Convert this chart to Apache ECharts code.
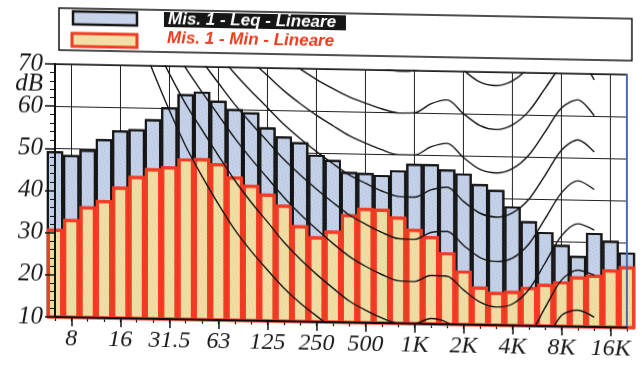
<!DOCTYPE html>
<html><head><meta charset="utf-8">
<script src="https://cdn.jsdelivr.net/npm/echarts@6/dist/echarts.min.js"></script>
<style>
html,body{margin:0;padding:0;background:#fff;overflow:hidden}
#c{width:642px;height:365px;transform:skewY(1.06deg);transform-origin:55px 0}
</style></head><body><div id="c"></div>
<script>
// 1/3-octave bands (6.3 Hz .. 20 kHz)
const categories = ['6.3','8','10','12.5','16','20','25','31.5','40','50','63','80','100','125','160','200','250','315','400','500','630','800','1K','1.25K','1.6K','2K','2.5K','3.15K','4K','5K','6.3K','8K','10K','12.5K','16K','20K'];
const tickLabels = ['8','16','31.5','63','125','250','500','1K','2K','4K','8K','16K'];
const yTicks = [10,20,30,40,50,60,70];

const leqValues = [49.3,48.5,49.8,52.4,54.5,54.9,57.3,60.2,63.4,64.1,62.0,60.1,59.4,55.9,53.8,52.5,49.6,48.5,45.7,45.5,45.1,46.3,47.9,47.9,46.7,45.8,43.4,42.1,38.2,34.8,32.3,29.3,26.8,32.3,30.5,27.8];
const minValues = [30.9,33.3,36.4,37.9,41.2,43.8,45.7,46.2,48.2,48.3,47.2,44.1,42.2,40.2,37.6,32.8,30.3,31.7,35.7,37.2,37.1,35.3,32.5,30.8,27.1,22.8,19.1,17.9,18.2,19.2,20.0,20.7,21.9,22.4,23.7,24.5];

// equal-loudness contours, values from 20 Hz to 12.5 kHz
const contourFirstBand = '20';
const phon0  = [78.5,68.7,59.5,51.1,44.0,37.5,31.5,26.5,22.1,17.9,14.4,11.4,8.6,6.2,4.4,3.0,2.2,2.4,3.5,1.7,-1.3,-4.2,-6.0,-5.4,-1.5,6.0,12.6,13.9,12.3];
const phon10 = [83.8,75.8,68.2,61.1,55.0,49.0,43.2,38.1,33.5,28.8,24.8,21.3,18.1,15.1,13.0,11.2,10.0,10.0,11.3,10.4,7.3,4.5,3.0,3.8,7.5,14.4,21.0,23.4,22.3];
const phon20 = [89.6,82.7,76.0,69.6,64.0,58.6,53.2,48.4,43.9,39.4,35.5,32.0,28.7,25.7,23.4,21.5,20.1,20.0,21.5,21.4,18.2,15.4,14.3,15.1,18.6,25.0,31.5,34.4,33.0];
const phon30 = [null,null,82.4,76.5,71.3,66.2,61.2,56.8,52.6,48.4,44.8,41.5,38.4,35.5,33.4,31.5,30.1,30.0,31.7,32.0,28.8,26.0,25.1,26.0,29.4,35.5,41.7,44.6,42.6];
const phon40 = [99.9,93.9,88.2,82.6,77.8,73.1,68.5,64.4,60.6,56.7,53.4,50.4,47.6,45.0,43.1,41.3,40.1,40.0,41.8,42.5,39.2,36.5,35.6,36.7,40.0,45.8,51.8,54.3,51.5];
const phon50 = [null,null,null,null,null,null,75.4,71.6,68.2,64.7,61.7,59.0,56.6,54.3,52.6,51.1,50.0,50.0,52.0,52.9,49.6,46.9,46.1,47.2,50.5,56.1,61.8,63.8,60.1];
const phon60 = [null,null,null,null,null,null,null,null,75.6,72.5,69.9,67.5,65.4,63.5,62.1,60.8,59.9,60.0,62.2,63.2,60.0,57.3,56.4,57.6,60.9,66.4,71.7,73.2,68.6];
const phon70 = [null,null,null,null,null,null,null,null,null,null,null,null,null,null,71.5,70.5,69.8,70.0,72.3,73.5,70.3,67.6,66.8,68.0,71.3,76.6,null,null,null];
const contours = [phon0,phon10,phon20,phon30,phon40,phon50,phon60,phon70];

const startIdx = categories.indexOf(contourFirstBand);
function fullRow(row){
  const out = categories.map(()=>null);
  row.forEach((v,i)=>{ out[startIdx+i] = v; });
  return out;
}
const isOctave = (i, v) => tickLabels.indexOf(categories[i]) !== -1;

const labelFont = {fontFamily:'Liberation Serif', fontStyle:'italic', color:'#1a1a1a'};

const chart = echarts.init(document.getElementById('c'), null, {renderer:'canvas'});
const series = [
  {type:'bar', name:'Mis. 1 - Leq - Lineare', data:leqValues, barWidth:'100%', barGap:'-100%', clip:true, z:2,
   itemStyle:{color:'#c6d3ea', borderColor:'#151515', borderWidth:2,
     decal:{symbol:'circle', symbolSize:0.7, color:'rgba(70,90,135,0.28)', dashArrayX:[[2,2],[0,2,2,0]], dashArrayY:[2,1], rotation:0.4}}},
  {type:'bar', name:'Mis. 1 - Min - Lineare', data:minValues, barWidth:'100%', barGap:'-100%', clip:true, z:3,
   itemStyle:{color:'#f2dfa5', borderColor:'#f33b24', borderWidth:3,
     decal:{symbol:'circle', symbolSize:0.7, color:'rgba(165,130,60,0.28)', dashArrayX:[[2,2],[0,2,2,0]], dashArrayY:[2,1], rotation:0.4}}}
];
contours.forEach((row, k) => {
  series.push({type:'line', name:'phon'+(k*10), data:fullRow(row), smooth:0.3, symbol:'none', clip:true, z:4,
    connectNulls:false, lineStyle:{color:'#141414', width:1.4}});
});

chart.setOption({
  animation:false,
  backgroundColor:'#ffffff',
  aria:{enabled:true, decal:{show:true}},
  grid:{left:55, right:15, top:64, bottom:48, containLabel:false, outerBoundsMode:'none',
        show:true, borderColor:'#1a1a1a', borderWidth:1.5, backgroundColor:'transparent'},
  xAxis:[
    {type:'category', data:categories, boundaryGap:false,
     axisLine:{show:false}, axisTick:{show:true, interval:0, length:4, lineStyle:{color:'#111', width:1.2}},
     axisLabel:{show:false},
     splitLine:{show:true, interval:isOctave, lineStyle:{color:'#202020', width:1}}},
    {type:'category', data:categories, boundaryGap:false, position:'bottom', z:6,
     axisLine:{show:true, onZero:false, lineStyle:{color:'#111', width:2}},
     axisTick:{show:true, interval:isOctave, length:9, lineStyle:{color:'#111', width:1.5}},
     axisLabel:Object.assign({show:true, interval:isOctave, margin:10, fontSize:24}, labelFont),
     splitLine:{show:false}}
  ],
  yAxis:[
    {type:'value', min:yTicks[0], max:yTicks[yTicks.length-1], interval:10,
     axisLine:{show:false}, axisTick:{show:false}, axisLabel:{show:false},
     splitLine:{show:true, lineStyle:{color:'#202020', width:1}}},
    {type:'value', position:'left', min:yTicks[0], max:yTicks[yTicks.length-1], interval:10, z:6,
     axisLine:{show:true, onZero:false, lineStyle:{color:'#111', width:2}},
     axisTick:{show:true, length:10, lineStyle:{color:'#111', width:1.5}},
     minorTick:{show:true, splitNumber:5, length:5, lineStyle:{color:'#111', width:1}},
     axisLabel:Object.assign({show:true, margin:12, fontSize:25}, labelFont),
     splitLine:{show:false}},
    {type:'value', position:'right', min:yTicks[0], max:yTicks[yTicks.length-1], interval:10, z:6,
     axisLine:{show:true, onZero:false, lineStyle:{color:'#4a6cab', width:2}},
     axisTick:{show:false}, axisLabel:{show:false}, splitLine:{show:false}}
  ],
  series:series,
  graphic:[
    {type:'rect', silent:true, z:10, shape:{x:59, y:8, width:573, height:42}, style:{fill:'none', stroke:'#151515', lineWidth:1.5}},
    {type:'rect', silent:true, z:10, shape:{x:73, y:11, width:64, height:13}, style:{fill:'#c6d3ea', stroke:'#151515', lineWidth:2.5}},
    {type:'rect', silent:true, z:10, shape:{x:164, y:10, width:182, height:15}, style:{fill:'#161616'}},
    {type:'text', silent:true, z:11, x:168, y:17.5, style:{text:'Mis. 1 - Leq - Lineare', font:'italic bold 17px "Liberation Sans"', fill:'#ffffff', align:'left', verticalAlign:'middle'}},
    {type:'rect', silent:true, z:10, shape:{x:72, y:33, width:65, height:13}, style:{fill:'#f2dfa5', stroke:'#f03a22', lineWidth:3}},
    {type:'text', silent:true, z:11, x:167, y:36, style:{text:'Mis. 1 - Min - Lineare', font:'italic bold 17px "Liberation Sans"', fill:'#ee3a1c', align:'left', verticalAlign:'middle', shadowColor:'rgba(255,170,0,0.6)', shadowBlur:2}},
    {type:'text', silent:true, z:11, x:43, y:84, style:{text:'dB', font:'italic 25px "Liberation Serif"', fill:'#1a1a1a', align:'right', verticalAlign:'middle'}}
  ]
});
</script></body></html>
